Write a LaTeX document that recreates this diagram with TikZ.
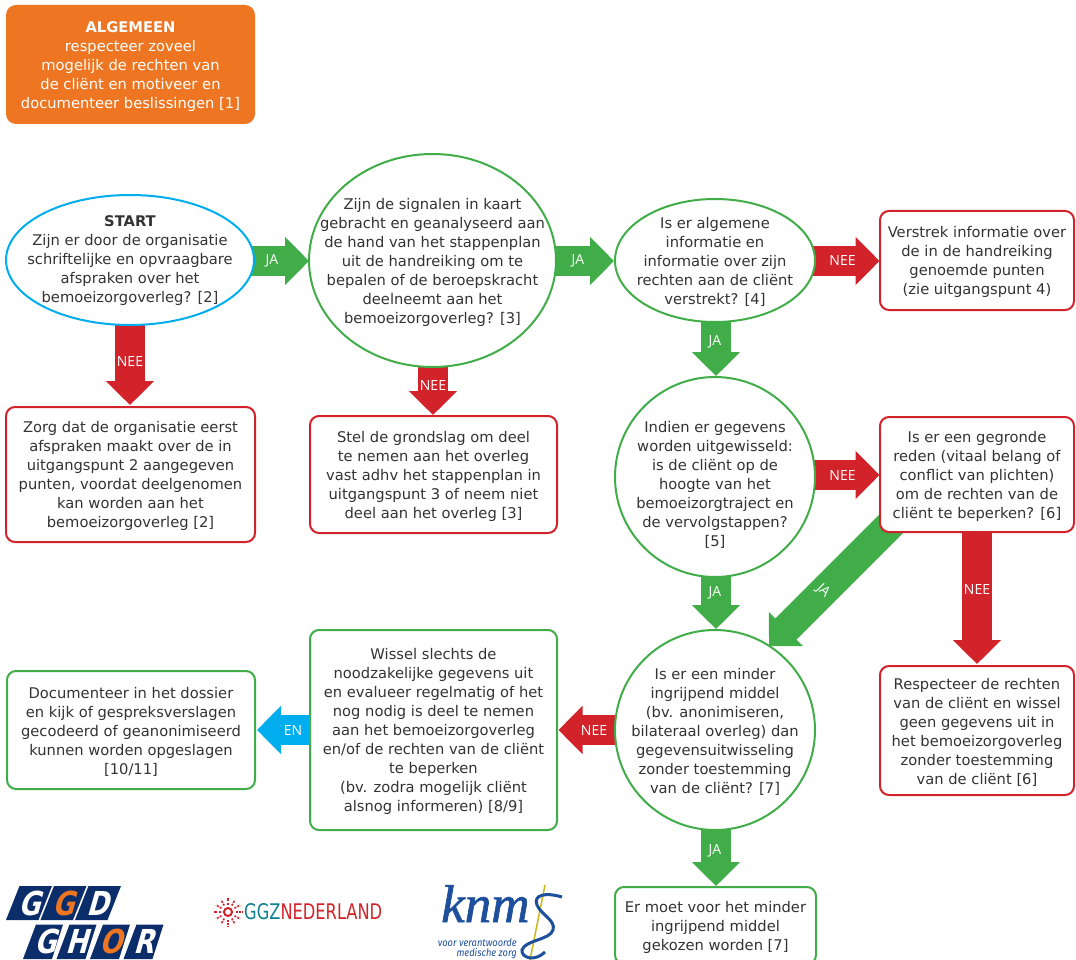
\documentclass[tikz,border=0pt]{standalone}
\usepackage{fontspec}
\usepackage{graphicx}
\setmainfont{DejaVu Sans}
\newfontfamily\logofont[FakeSlant=0.36]{DejaVu Sans Bold}
\newfontfamily\knmgfont[ItalicFeatures={FakeBold=1.2}]{Liberation Serif}
\newfontfamily\firafont{Fira Sans}
\newfontfamily\labelfont{Open Sans}
\usetikzlibrary{arrows.meta,backgrounds,calc}
\definecolor{cgreen}{HTML}{41AD49}
\definecolor{cred}{HTML}{D2232A}
\definecolor{cblue}{HTML}{00AEEF}
\definecolor{corange}{HTML}{EE7623}
\definecolor{ctext}{HTML}{333333}
\definecolor{cnavy}{HTML}{0B2E6B}
\definecolor{cknmg}{HTML}{1D4F9C}
\definecolor{cteal}{HTML}{0F7F8C}
\definecolor{crod}{HTML}{C9B81F}
\tikzset{
 x=1pt,y=-1pt,
 txt/.style={font=\fontsize{14.7}{19}\selectfont,text=ctext,align=center,inner sep=0pt,yshift=-1.5pt},
 redbox/.style={draw=cred,line width=2pt,rounded corners=9pt,fill=white},
 greenbox/.style={draw=cgreen,line width=2pt,rounded corners=9pt,fill=white},
 greenround/.style={draw=cgreen,line width=2pt,fill=white},
 blockarrow/.style={line width=30pt,-{Triangle[length=24pt,width=47pt]}},
 arrowlabel/.style={font=\fontsize{14}{16}\labelfont,text=white,inner sep=0pt},
 logopara/.style={fill=cnavy,draw=none},
 logoletter/.style={font=\fontsize{33}{33}\logofont,inner sep=0pt,text=white},
}
\newcommand{\boxat}[7]{% name, style, x1,y1,x2,y2, text
 \path[#2] (#3,#4) rectangle (#5,#6);
 \coordinate (#1-c) at ({(#3+#5)/2},{(#4+#6)/2});
 \node[txt] (#1) at (#1-c) {#7};}
\newcommand{\roundat}[7]{% name, style, cx,cy,rx,ry,text
 \path[#2] (#3,#4) ellipse [x radius=#5pt,y radius=#6pt];
 \node[txt] (#1) at (#3,#4) {#7};}
\newcommand{\logoletters}[1]{\scalebox{.8}[1]{#1}}
\begin{document}
\begin{tikzpicture}
\useasboundingbox (0,0) rectangle (1076,960);
\begin{pgfonlayer}{background}
\fill[white] (0,0) rectangle (1076,960);
\end{pgfonlayer}

% top box
\fill[corange] (6,5) [rounded corners=10pt] rectangle (255,124);
\node[txt,text=white] (general) at (130.5,65) {\textbf{ALGEMEEN}\\respecteer zoveel\\mogelijk de rechten van\\de cliënt en motiveer en\\documenteer beslissingen [1]};

% decision shapes
\path[draw=cblue,line width=2pt,fill=white] (130,260) ellipse [x radius=124pt,y radius=65pt];
\node[txt] (start) at (130,259) {\textbf{START}\\Zijn er door de organisatie\\schriftelijke en opvraagbare\\afspraken over het\\bemoeizorgoverleg? [2]};
\roundat{signalen}{greenround}{432.5}{260.5}{123.5}{106.5}{Zijn de signalen in kaart\\gebracht en geanalyseerd aan\\de hand van het stappenplan\\uit de handreiking om te\\bepalen of de beroepskracht\\deelneemt aan het\\bemoeizorgoverleg? [3]}
\roundat{algemeen}{greenround}{715}{260.5}{100}{61.5}{Is er algemene\\informatie en\\informatie over zijn\\rechten aan de cliënt\\verstrekt? [4]}
\path[greenround] (715,477) ellipse [x radius=100pt,y radius=100pt];
\node[txt] (gegevens) at (715,483) {Indien er gegevens\\worden uitgewisseld:\\is de cliënt op de\\hoogte van het\\bemoeizorgtraject en\\de vervolgstappen?\\{[5]}};
\roundat{middel}{greenround}{715}{730}{100}{100}{Is er een minder\\ingrijpend middel\\(bv. anonimiseren,\\bilateraal overleg) dan\\gegevensuitwisseling\\zonder toestemming\\van de cliënt? [7]}

% boxes
\boxat{verstrek}{redbox}{880}{211}{1074}{310}{Verstrek informatie over\\de in de handreiking\\genoemde punten\\(zie uitgangspunt 4)}
\boxat{zorg}{redbox}{6}{407}{255}{542}{Zorg dat de organisatie eerst\\afspraken maakt over de in\\uitgangspunt 2 aangegeven\\punten, voordat deelgenomen\\kan worden aan het\\bemoeizorgoverleg [2]}
\boxat{stel}{redbox}{310}{416}{557}{533}{Stel de grondslag om deel\\te nemen aan het overleg\\vast adhv het stappenplan in\\uitgangspunt 3 of neem niet\\deel aan het overleg [3]}
\boxat{reden}{redbox}{880}{417}{1074}{532}{Is er een gegronde\\reden (vitaal belang of\\conflict van plichten)\\om de rechten van de\\cliënt te beperken? [6]}
\boxat{respect}{redbox}{880}{666}{1074}{795}{Respecteer de rechten\\van de cliënt en wissel\\geen gegevens uit in\\het bemoeizorgoverleg\\zonder toestemming\\van de cliënt [6]}
\boxat{wissel}{greenbox}{310}{630}{557}{830}{Wissel slechts de\\noodzakelijke gegevens uit\\en evalueer regelmatig of het\\nog nodig is deel te nemen\\aan het bemoeizorgoverleg\\en/of de rechten van de cliënt\\te beperken\\(bv. zodra mogelijk cliënt\\alsnog informeren) [8/9]}
\boxat{doc}{greenbox}{7}{671}{255}{789}{Documenteer in het dossier\\en kijk of gespreksverslagen\\gecodeerd of geanonimiseerd\\kunnen worden opgeslagen\\{[10/11]}}
\boxat{keuze}{greenbox}{615}{887}{816}{964}{Er moet voor het minder\\ingrijpend middel\\gekozen worden [7]}

% connector ends
\coordinate (a1s) at (250,261); \coordinate (a1e) at (309,261);
\coordinate (a2s) at (130,322); \coordinate (a2e) at (130,405);
\coordinate (a3s) at (553,261); \coordinate (a3e) at (614,261);
\coordinate (a4s) at (812,261); \coordinate (a4e) at (879.5,261);
\coordinate (a5s) at (433,364); \coordinate (a5e) at (433,415);
\coordinate (a6s) at (716,320); \coordinate (a6e) at (716,376);
\coordinate (a7s) at (812,475); \coordinate (a7e) at (879.5,475);
\coordinate (a8s) at (716,574); \coordinate (a8e) at (716,629);
\coordinate (a9s) at (977,530); \coordinate (a9e) at (977,664);
\coordinate (a10s) at (893,522); \coordinate (a10e) at (769,646);
\coordinate (a11s) at (618,730); \coordinate (a11e) at (558.5,730);
\coordinate (a12s) at (310,730); \coordinate (a12e) at (257,730);
\coordinate (a13s) at (716,828); \coordinate (a13e) at (716,886);

\begin{pgfonlayer}{background}
\draw[blockarrow,cgreen] (a1s) -- (a1e);
\draw[blockarrow,cred] (a2s) -- (a2e);
\draw[blockarrow,cgreen] (a3s) -- (a3e);
\draw[blockarrow,cred] (a4s) -- (a4e);
\draw[blockarrow,cred] (a5s) -- (a5e);
\draw[blockarrow,cgreen] (a6s) -- (a6e);
\draw[blockarrow,cred] (a7s) -- (a7e);
\draw[blockarrow,cgreen] (a8s) -- (a8e);
\draw[blockarrow,cred] (a9s) -- (a9e);
\draw[blockarrow,cgreen] (a10s) -- (a10e);
\draw[blockarrow,cred] (a11s) -- (a11e);
\draw[blockarrow,cblue] (a12s) -- (a12e);
\draw[blockarrow,cgreen] (a13s) -- (a13e);
\end{pgfonlayer}

\node[arrowlabel] (l1) at (272,261) {JA};
\node[arrowlabel] (l2) at (130,362) {NEE};
\node[arrowlabel] (l3) at (578,261) {JA};
\node[arrowlabel] (l4) at (842.5,261) {NEE};
\node[arrowlabel] (l5) at (433,386) {NEE};
\node[arrowlabel] (l6) at (715,342) {JA};
\node[arrowlabel] (l7) at (842.5,475) {NEE};
\node[arrowlabel] (l8) at (715,593) {JA};
\node[arrowlabel] (l9) at (977,589) {NEE};
\node[arrowlabel,rotate=-45] (l10) at (823,591) {JA};
\node[arrowlabel] (l11) at (594,730) {NEE};
\node[arrowlabel] (l12) at (293,730) {EN};
\node[arrowlabel] (l13) at (715,851) {JA};

% GGD GHOR logo
\foreach \xa in {6,40.5,75}{
 \fill[logopara] (\xa,920) -- (\xa+13.5,886) -- (\xa+46,886) -- (\xa+32.5,920) -- cycle;
}
\foreach \xa in {23,56.5,90,123.5}{
 \fill[logopara] (\xa,959) -- (\xa+13,924.5) -- (\xa+40,924.5) -- (\xa+29,959) -- cycle;
}
\node[logoletter] (g1) at (29,903) {\logoletters{G}};
\node[logoletter,text=corange] (g2) at (63,903) {\logoletters{G}};
\node[logoletter] (g3) at (97,903) {\logoletters{D}};
\node[logoletter] (h1) at (45,941.5) {\logoletters{G}};
\node[logoletter] (h2) at (77,941.5) {\logoletters{H}};
\node[logoletter,text=corange] (h3) at (111,941.5) {\logoletters{O}};
\node[logoletter] (h4) at (144,941.5) {\logoletters{R}};

% GGZ Nederland logo
\draw[cred,line width=2pt] (228,912) circle (4pt);
\foreach \a in {0,30,...,330}{
 \draw[cred,line width=1.6pt,dash pattern=on 2pt off 1.2pt] ($(228,912)+(\a:7.5pt)$) -- ($(228,912)+(\a:14pt)$);
}
\node[inner sep=0pt,anchor=west] (ggz) at (244,912) {\resizebox{138pt}{16pt}{\textcolor{cteal}{GGZ}\textcolor{cred}{NEDERLAND}}};

% KNMG logo
\node[inner sep=0pt,anchor=base west,text=cknmg,font=\fontsize{53}{53}\knmgfont\itshape] (knm) at (441,922) {knm};
\draw[crod,line width=1.5pt] (545,885) -- (530,960);
\draw[cknmg,line width=3pt] (562,897) .. controls (545,892) and (533,895) .. (537,905) .. controls (541,915) and (556,920) .. (553,930) .. controls (550,940) and (525,940) .. (522,950) .. controls (521,958) and (535,962) .. (545,952);
\node[inner sep=0pt,anchor=north east,text=cknmg,font=\fontsize{10.5}{10.5}\firafont\itshape] (zorg1) at (517,938) {\scalebox{.89}[1]{voor verantwoorde}};
\node[inner sep=0pt,anchor=north east,text=cknmg,font=\fontsize{10.5}{10.5}\firafont\itshape] (zorg2) at (517,948.5) {\scalebox{.89}[1]{medische zorg}};
\end{tikzpicture}
\end{document}
